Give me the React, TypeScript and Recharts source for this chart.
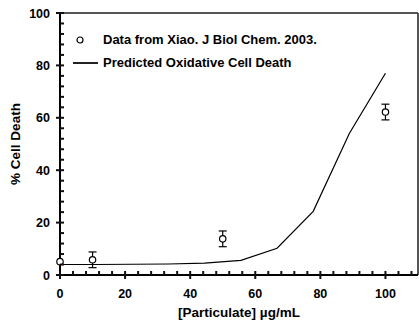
import React from 'react';
import { ComposedChart, Line, Scatter, ErrorBar, XAxis, YAxis, Legend, ReferenceLine } from 'recharts';

// measured data (Xiao et al.)
const doseX = [0, 10, 50, 100];
const deathY = [5.1, 5.8, 13.8, 62.2];
const deathErr = [0, 3, 3, 3];

// model prediction
const modelX = [0, 11.1, 22.2, 33.3, 44.4, 55.6, 66.7, 77.8, 88.9, 100];
const modelY = [4.0, 4.0, 4.1, 4.2, 4.5, 5.6, 10.2, 24.3, 54, 77];

const xTicks = Array.from({ length: 28 }, (_, i) => i * 4);
const yTicks = Array.from({ length: 26 }, (_, i) => i * 4);

const FONT = 'Arial, "Liberation Sans", Helvetica, sans-serif';

const measured = doseX.map((x, i) => ({ x, y: deathY[i], err: deathErr[i] }));
const model = modelX.map((x, i) => ({ x, y: modelY[i] }));

const renderXTick = (props: any) => {
  const { x, y, payload } = props;
  const major = payload.value % 20 === 0;
  return (
    <g key={`xt-${payload.value}`}>
      <rect x={x - 1} y={y - 4} width={2} height={major ? 8 : 4} fill="#111" />
      {major && (
        <text x={x} y={y + 23} textAnchor="middle" fontFamily={FONT} fontWeight="bold" fontSize={12.5} fill="#000">
          {payload.value}
        </text>
      )}
    </g>
  );
};

const renderYTick = (props: any) => {
  const { x, y, payload } = props;
  const major = payload.value % 20 === 0;
  return (
    <g key={`yt-${payload.value}`}>
      <rect x={major ? x - 4 : x} y={y - 1} width={major ? 8 : 4} height={2} fill="#111" />
      {major && (
        <text x={x - 10} y={y + 4.5} textAnchor="end" fontFamily={FONT} fontWeight="bold" fontSize={12.5} fill="#000">
          {payload.value}
        </text>
      )}
    </g>
  );
};

const YTitle = (props: any) => {
  const { viewBox } = props;
  const cy = viewBox.y + viewBox.height / 2;
  return (
    <text x={15} y={cy} transform={`rotate(-90 15 ${cy})`} textAnchor="middle" dominantBaseline="central"
      fontFamily={FONT} fontWeight="bold" fontSize={13.5} fill="#000">
      % Cell Death
    </text>
  );
};

const XTitle = (props: any) => {
  const { viewBox } = props;
  const cx = viewBox.x + viewBox.width / 2;
  return (
    <text x={cx} y={317} textAnchor="middle" fontFamily={FONT} fontWeight="bold" fontSize={13.5} fill="#000">
      [Particulate] µg/mL
    </text>
  );
};

const LegendBox = () => (
  <div style={{ fontFamily: FONT, fontWeight: 'bold', fontSize: 13, color: '#000' }}>
    <div style={{ display: 'flex', alignItems: 'center', height: 23 }}>
      <svg width={33} height={14}>
        <circle cx={10} cy={7} r={3} fill="#fff" stroke="#000" strokeWidth={1.2} />
      </svg>
      <span>Data from Xiao. J Biol Chem. 2003.</span>
    </div>
    <div style={{ display: 'flex', alignItems: 'center', height: 23 }}>
      <svg width={33} height={14}>
        <rect x={3} y={6} width={25} height={2} fill="#222" />
      </svg>
      <span>Predicted Oxidative Cell Death</span>
    </div>
  </div>
);

const Dot = (props: any) => (
  <circle cx={props.cx} cy={props.cy} r={3.2} fill="#fff" stroke="#000" strokeWidth={1.2} />
);

export default function App() {
  return (
    <div style={{ position: 'absolute', left: 0, top: 0, width: 419, height: 320, background: '#fff' }}>
      <ComposedChart width={419} height={320} margin={{ top: 13, right: 1, bottom: 0, left: 0 }}>
        <XAxis
          dataKey="x"
          type="number"
          domain={[0, 110]}
          ticks={xTicks}
          interval={0}
          height={45}
          tickSize={0}
          tickMargin={0}
          tickLine={false}
          tick={renderXTick}
          axisLine={{ stroke: '#000', strokeWidth: 2 }}
          label={<XTitle />}
        />
        <YAxis
          type="number"
          domain={[0, 100]}
          ticks={yTicks}
          interval={0}
          width={60}
          tickSize={0}
          tickMargin={0}
          tickLine={false}
          tick={renderYTick}
          axisLine={{ stroke: '#000', strokeWidth: 2 }}
          label={<YTitle />}
        />
        <ReferenceLine y={100} stroke="#555" strokeWidth={2} ifOverflow="visible" />
        <ReferenceLine x={110} stroke="#555" strokeWidth={2} ifOverflow="visible" />
        <Legend layout="vertical" align="center" verticalAlign="middle" content={<LegendBox />}
          wrapperStyle={{ left: 70, top: 28, width: 330 }} />
        <Line data={model} dataKey="y" stroke="#000" strokeWidth={1.2} dot={false} isAnimationActive={false} legendType="none" />
        <Scatter data={measured} dataKey="y" shape={<Dot />} isAnimationActive={false}>
          <ErrorBar dataKey="err" direction="y" width={4} stroke="#000" strokeWidth={1.2} />
        </Scatter>
      </ComposedChart>
    </div>
  );
}
